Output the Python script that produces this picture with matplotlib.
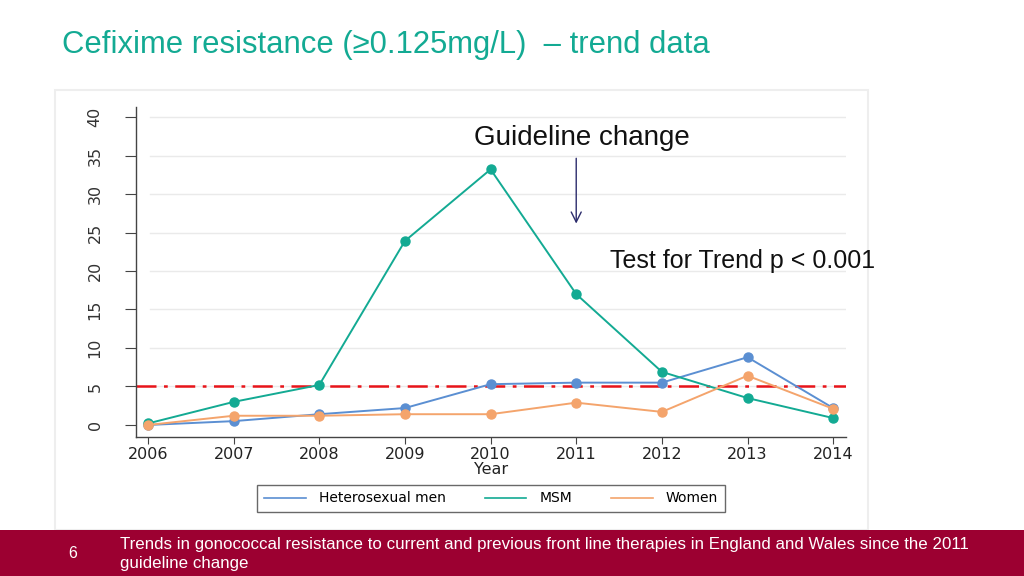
import matplotlib
matplotlib.use("Agg")
import matplotlib.pyplot as plt
from matplotlib.patches import Rectangle

years = [2006, 2007, 2008, 2009, 2010, 2011, 2012, 2013, 2014]
het_men = [0.0, 0.5, 1.4, 2.2, 5.3, 5.5, 5.5, 8.8, 2.2]
msm = [0.2, 3.0, 5.2, 23.9, 33.2, 17.0, 6.9, 3.5, 0.9]
women = [0.0, 1.2, 1.2, 1.4, 1.4, 2.9, 1.7, 6.4, 2.1]
series_names = ["Heterosexual men", "MSM", "Women"]
yticks = [0, 5, 10, 15, 20, 25, 30, 35, 40]
threshold = 5

title = "Cefixime resistance (\u22650.125mg/L)  \u2013 trend data"
footer = ("Trends in gonococcal resistance to current and previous front line therapies in England and Wales since the 2011\n"
          "guideline change")

plt.rcParams['font.family'] = ['Liberation Sans', 'DejaVu Sans']
AXFONT = ['DejaVu Sans']

fig = plt.figure(figsize=(10.24, 5.76), dpi=100)
W, H = 1024, 576

def fx(px):
    return px / W

def fy(py):
    return 1 - py / H

# chart panel faint border
fig.patches.append(Rectangle((fx(55), fy(530)), fx(868) - fx(55), fy(90) - fy(530),
                             transform=fig.transFigure, facecolor='white',
                             edgecolor='#eeeeee', lw=1.5, zorder=-2))

ax = fig.add_axes([fx(136), fy(437), fx(846) - fx(136), fy(107) - fy(437)])
ax.set_zorder(2)
ax.patch.set_alpha(0)
ax.set_xlim(2005.86, 2014.15)
ax.set_ylim(-1.56, 41.3)

col_het = '#5b8fd2'
col_msm = '#13aa93'
col_wom = '#f4a46c'

for vals, c, name in [(het_men, col_het, series_names[0]), (msm, col_msm, series_names[1]),
                      (women, col_wom, series_names[2])]:
    ax.plot(years, vals, color=c, lw=1.4, marker='o', ms=6.5, label=name, zorder=3)

ax.axhline(threshold, color='#e8141a', lw=1.8, ls=(0, (8, 3, 1.5, 3)), zorder=2)

ax.set_yticks(yticks)
ax.set_yticklabels([str(t) for t in yticks], rotation=90, va='center', fontsize=11.5,
                   color='#333333', family=AXFONT)
for t in yticks[1:]:
    ax.axhline(t, xmin=0.02, color='#eaeaea', lw=1, zorder=1)
ax.set_xticks(years)
ax.set_xticklabels([str(y) for y in years], fontsize=11.5, color='#222222', family=AXFONT)
ax.set_xlabel("Year", fontsize=11.5, labelpad=0, color='#222222', family=AXFONT)

for s in ['top', 'right']:
    ax.spines[s].set_visible(False)
for s in ['left', 'bottom']:
    ax.spines[s].set_color('#444444')
    ax.spines[s].set_linewidth(1)
ax.tick_params(axis='y', length=8, color='#444444', pad=16)
ax.tick_params(axis='x', length=5, color='#444444', pad=2)

ax.annotate("", xy=(2011, 25.8), xytext=(2011, 35.0),
            arrowprops=dict(arrowstyle='->', color='#2b2b6b', lw=1.0, mutation_scale=18))
ax.text(2011.07, 37.3, "Guideline change", ha='center', va='center', fontsize=20,
        color='#111111')
ax.text(2011.4, 21.3, "Test for Trend p < 0.001", ha='left', va='center', fontsize=18,
        color='#111111', clip_on=False)

leg = fig.legend(loc='center', bbox_to_anchor=(fx(491), fy(498.5)), ncol=3,
                 frameon=True, fancybox=False, edgecolor='#444444',
                 prop={'family': AXFONT, 'size': 10},
                 handlelength=3.0, columnspacing=2.8, handletextpad=0.95, borderpad=0.5)
for h in leg.legend_handles:
    h.set_marker('')
    h.set_linewidth(1.2)

# title
fig.text(fx(62), fy(45), title, ha='left', va='center', fontsize=22.3,
         color='#13aa93')

# footer bar
fig.patches.append(Rectangle((0, 0), 1, fy(530), transform=fig.transFigure,
                             facecolor='#9c0031', edgecolor='none', zorder=-1))
fig.text(fx(73), fy(554), "6", ha='center', va='center', fontsize=11.5, color='white')
fig.text(fx(120), fy(554), footer, ha='left', va='center', fontsize=12.2, color='white',
         linespacing=1.35)

fig.savefig("out.png", dpi=100)
